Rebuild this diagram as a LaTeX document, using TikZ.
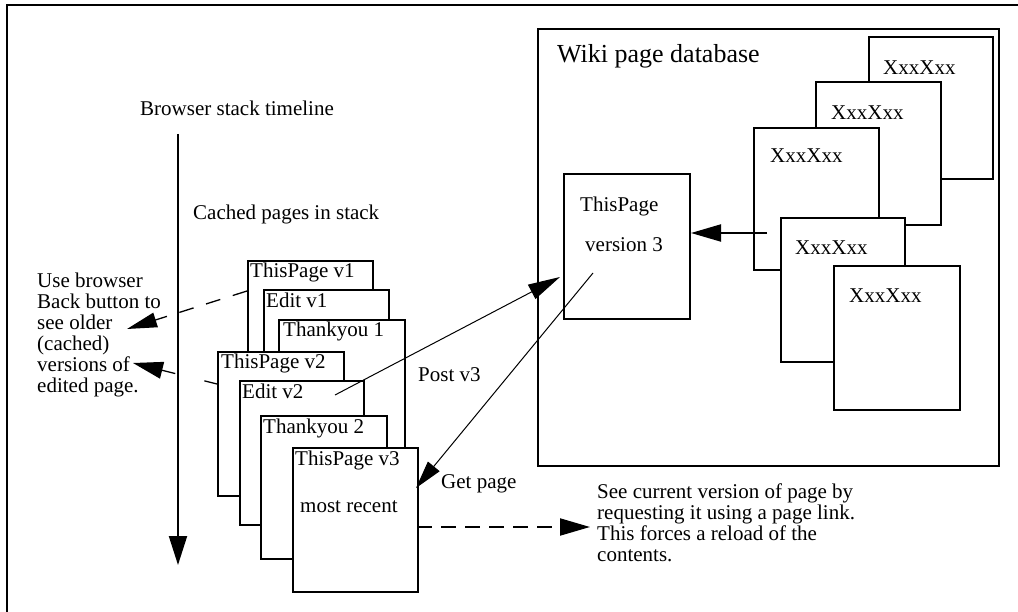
\documentclass[tikz,border=0pt]{standalone}
\usepackage{fontspec}
\setmainfont{Liberation Serif}
\usetikzlibrary{arrows.meta,calc}
\begin{document}
\begin{tikzpicture}[x=1pt,y=-1pt,
  every node/.style={font=\fontsize{21}{21}\selectfont, inner sep=0pt},
  txt/.style={anchor=base west},
  mtxt/.style={anchor=north west, align=left, font=\fontsize{21}{21}\selectfont},
  pagebox/.style={draw, line width=2pt, fill=white, anchor=north west, minimum width=#1},
  pagebox/.default=125pt,
  bigline/.style={line width=2pt},
  thinline/.style={line width=1pt},
  bighead/.style={-{Triangle[length=30pt,width=17pt]}},
  midhead/.style={-{Triangle[length=30pt,width=15pt]}}
]
\useasboundingbox (0,0) rectangle (1018,612);
% outer frame
\draw[bigline] (1030,5) -- (7,5) -- (7,630);

% ---------- wiki database ----------
\node[draw, line width=2pt, anchor=north west, minimum width=461pt, minimum height=437pt] (db) at (537,28) {};
\node[txt, font=\fontsize{26}{26}\selectfont] (dbt) at (557,63) {Wiki page database};

\node[pagebox=124pt, minimum height=142pt] (b1) at (868,36) {};
\node[txt] (b1t) at (883,75) {XxxXxx};
\node[pagebox=125pt, minimum height=143pt] (b2) at (815,81) {};
\node[txt] (b2t) at (831,120) {XxxXxx};
\node[pagebox=125pt, minimum height=142pt] (b3) at (753,127) {};
\node[txt] (b3t) at (770,163) {XxxXxx};
\node[pagebox=124pt, minimum height=144pt] (b4) at (780,217) {};
\node[txt] (b4t) at (795,255) {XxxXxx};
\node[pagebox=126pt, minimum height=144pt] (b5) at (833,265) {};
\node[txt] (b5t) at (849,303) {XxxXxx};

\node[pagebox=126pt, minimum height=145pt] (tp) at (563,173) {};
\node[txt] (tpt1) at (580,212) {ThisPage};
\node[txt] (tpt2) at (585,252) {version 3};

\coordinate (b3in) at (767,233);
\draw[bigline, bighead] (b3in) -- (b3in -| tp.east);

% ---------- browser stack ----------
\node[txt] (tlt) at (140,116) {Browser stack timeline};
\coordinate (tl0) at (178,134);
\coordinate (tl1) at (178,565);
\draw[bigline, -{Triangle[length=29pt,width=18pt]}] (tl0) -- (tl1);

\node[txt] (cpt) at (193,220) {Cached pages in stack};

\node[pagebox=125pt, minimum height=144pt] (p1) at (247,260) {};
\node[txt] (p1t) at (250,278) {ThisPage v1};
\node[pagebox=125pt, minimum height=144pt] (e1) at (263,289) {};
\node[txt] (e1t) at (266,308) {Edit v1};
\node[pagebox=126pt, minimum height=144pt] (t1) at (278,319) {};
\node[txt] (t1t) at (283,337) {Thankyou 1};
\node[pagebox=126pt, minimum height=144pt] (p2) at (217,351) {};
\node[txt] (p2t) at (221,369) {ThisPage v2};
\node[pagebox=124pt, minimum height=144pt] (e2) at (239,380) {};
\node[txt] (e2t) at (242,399) {Edit v2};
\node[pagebox=126pt, minimum height=143pt] (t2) at (260,415) {};
\node[txt] (t2t) at (263,433) {Thankyou 2};
\node[pagebox=125pt, minimum height=144pt] (p3) at (292,447) {};
\node[txt] (p3t) at (295,465) {ThisPage v3};
\node[txt] (p3m) at (300,512) {most recent};

% left explanation
\node[mtxt] (back) at (37,272.5) {Use browser\\Back button to\\see older\\(cached)\\versions of\\edited page.};

\coordinate (d1s) at (247,291);
\coordinate (d1e) at (127,329);
\draw[line width=1.3pt, dash pattern=on 15pt off 13pt, midhead] (d1s) -- (d1e);
\coordinate (d2s) at (217,384);
\coordinate (d2e) at (133,363);
\draw[line width=1.3pt, dash pattern=on 13pt off 30pt on 200pt, {-Triangle[length=30pt,width=17pt]}] (d2s) -- (d2e);

% post / get
\coordinate (posts) at (335,395);
\coordinate (poste) at (560,277);
\draw[thinline, -{Triangle[length=32pt,width=16pt]}] (posts) -- (poste);
\node[txt] (postl) at (418,382) {Post v3};

\coordinate (gets) at (593,273);
\coordinate (gete) at (416,488);
\draw[thinline, -{Triangle[length=28pt,width=15pt]}] (gets) -- (gete);
\node[txt] (getl) at (441,488) {Get page};

% current version
\coordinate (cs) at (417,527);
\coordinate (ce) at (590,527);
\draw[bigline, dash pattern=on 15pt off 9pt, bighead] (cs) -- (ce);
\node[mtxt] (cur) at (597,483.5) {See current version of page by\\requesting it using a page link.\\This forces a reload of the\\contents.};
\end{tikzpicture}
\end{document}
